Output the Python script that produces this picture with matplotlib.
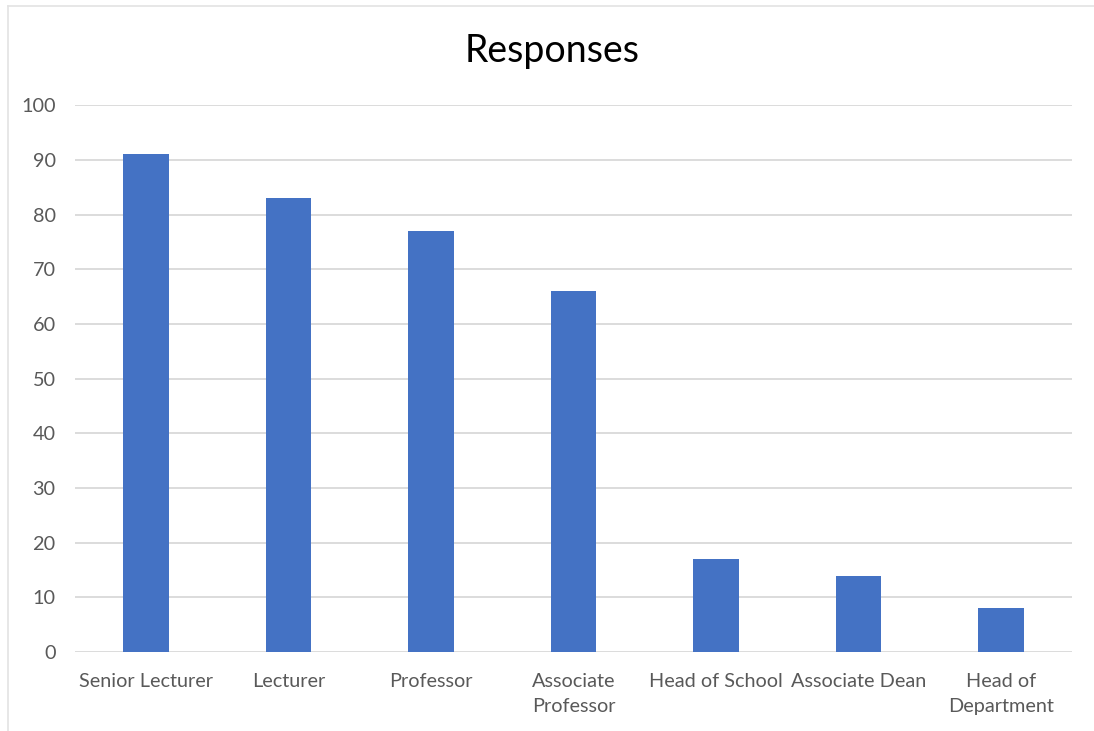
import matplotlib.pyplot as plt
from matplotlib.lines import Line2D
import numpy as np

categories = ['Senior Lecturer', 'Lecturer', 'Professor', 'Associate\nProfessor',
              'Head of School', 'Associate Dean', 'Head of\nDepartment']
responses = [91, 83, 77, 66, 17, 14, 8]
y_ticks = [0, 10, 20, 30, 40, 50, 60, 70, 80, 90, 100]

plt.rcParams['font.family'] = ['Lato', 'DejaVu Sans']

fig = plt.figure(figsize=(10.94, 7.31), dpi=100)
ax = fig.add_axes([0.0686, 0.108, 0.9114, 0.748])

x = np.arange(len(categories))
ax.bar(x, responses, width=0.32, color='#4472C4', zorder=3)

ax.set_xlim(-0.5, len(categories) - 0.5)
ax.set_ylim(0, 100)
ax.set_yticks(y_ticks)
ax.set_xticks(x)
ax.set_xticklabels(categories, linespacing=1.6)
ax.grid(axis='y', color='#d9d9d9', linewidth=1.3, zorder=0)
ax.tick_params(axis='both', length=0, labelsize=14.3, colors='#595959')
ax.tick_params(axis='y', pad=14)
ax.tick_params(axis='x', pad=15)
for s in ax.spines.values():
    s.set_visible(False)

fig.text(0.505, 0.93, 'Responses', ha='center', va='center', fontsize=27, color='black')

# faint frame around the chart area
fig.add_artist(Line2D([8 / 1094, 1], [1 - 6 / 731, 1 - 6 / 731], color='#e3e3e3', linewidth=1.2))
fig.add_artist(Line2D([8 / 1094, 8 / 1094], [0, 1 - 6 / 731], color='#e3e3e3', linewidth=1.2))

fig.savefig('out.png', dpi=100, facecolor='white')
